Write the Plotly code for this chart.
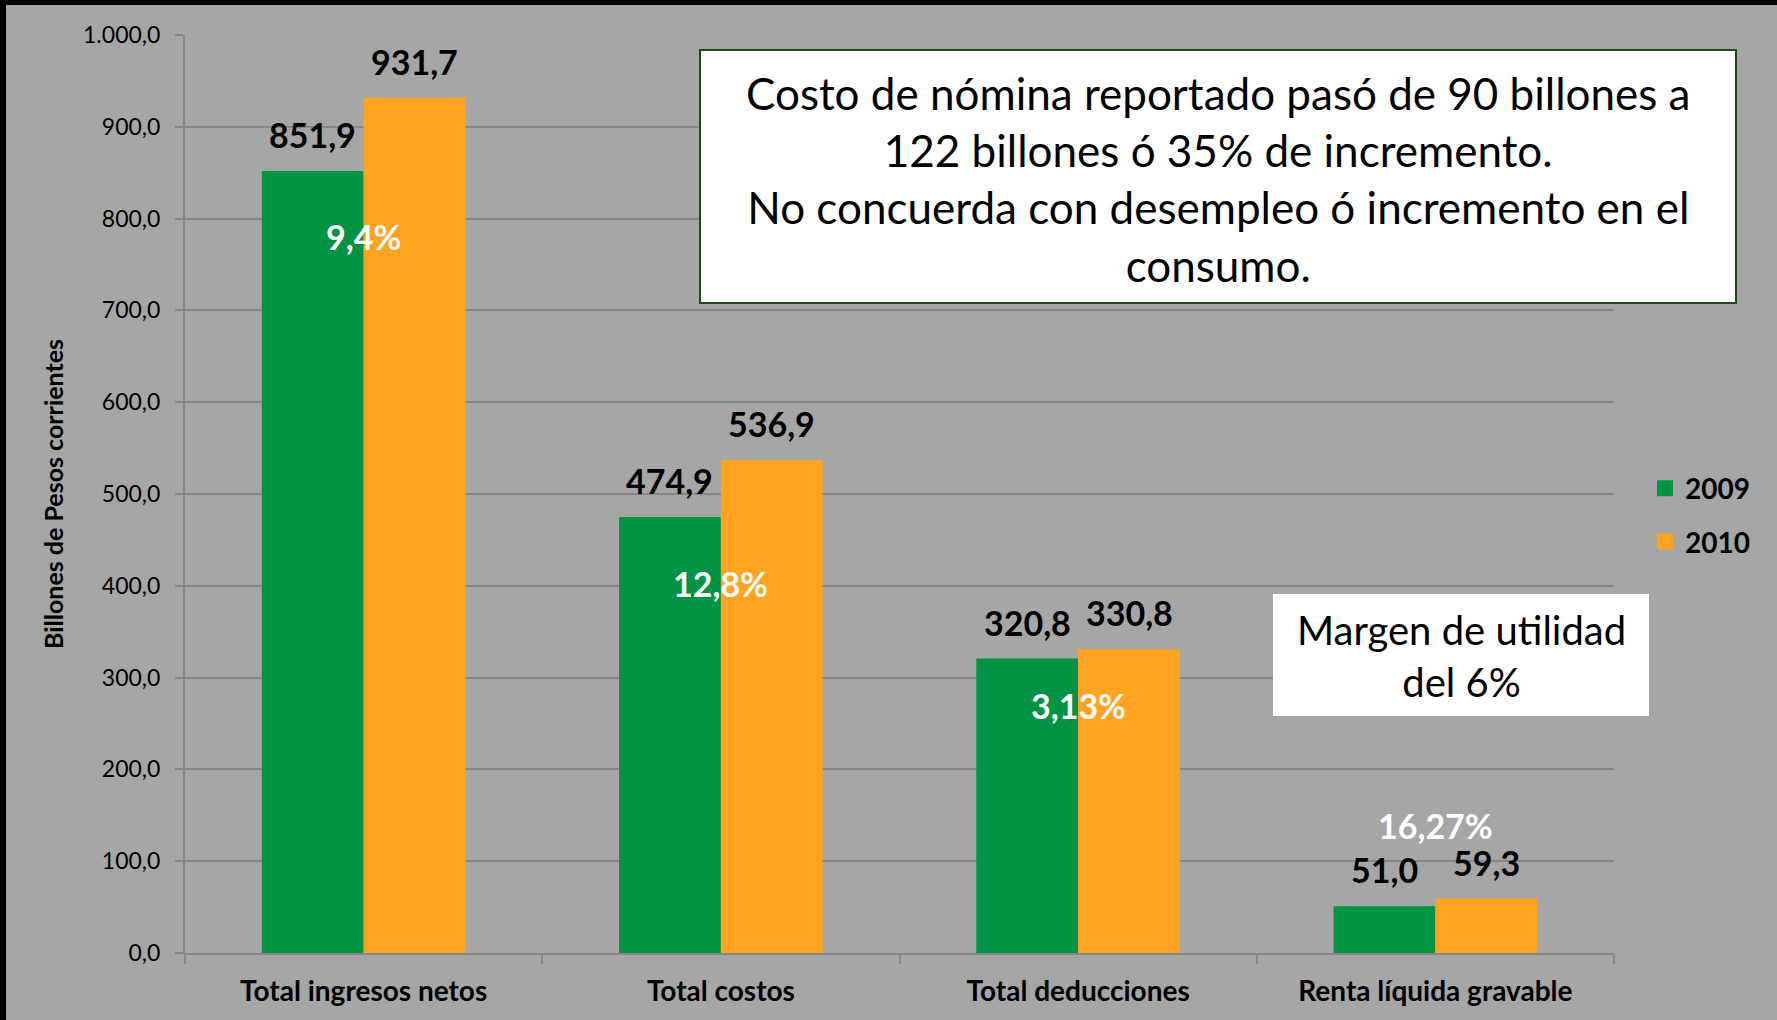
import plotly.graph_objects as go

categories = ["Total ingresos netos", "Total costos", "Total deducciones", "Renta líquida gravable"]
values_2009 = [851.9, 474.9, 320.8, 51.0]
values_2010 = [931.7, 536.9, 330.8, 59.3]
pct_labels = ["9,4%", "12,8%", "3,13%", "16,27%"]
pct_label_y = [781, 402, 270, 139]
y_ticks = [0, 100, 200, 300, 400, 500, 600, 700, 800, 900, 1000]

FONT = "Lato"
GREEN = "#009444"
ORANGE = "#FFA321"
BG = "#A6A6A6"
GRID = "#878787"

W, H = 1777, 1020
ML, MR, MT, MB = 185, 163, 35, 67
PW, PH = W - ML - MR, H - MT - MB
BARGAP = 0.43
half_bar = PW / len(categories) * (1 - BARGAP) / 4


def fmt(v):
    return f"{v:.1f}".replace(".", ",")


fig = go.Figure()
fig.add_trace(go.Bar(x=categories, y=values_2009, name="2009", marker_color=GREEN,
                     marker_line_width=0, showlegend=False))
fig.add_trace(go.Bar(x=categories, y=values_2010, name="2010", marker_color=ORANGE,
                     marker_line_width=0, showlegend=False))
# legend proxies
for nm, col, grp in [("2009", GREEN, "a"), ("2010", ORANGE, "b")]:
    fig.add_trace(go.Scatter(x=[None], y=[None], mode="markers", name=nm, legendgroup=grp,
                             marker=dict(symbol="square", size=17, color=col)))

for cat, v09, v10 in zip(categories, values_2009, values_2010):
    for v, sh in [(v09, -half_bar), (v10, half_bar)]:
        fig.add_annotation(x=cat, y=v, text=f"<b>{fmt(v)}</b>", showarrow=False,
                           xanchor="center", yanchor="bottom", xshift=sh, yshift=14,
                           font=dict(family=FONT, size=34, color="black"))

for cat, lab, yy in zip(categories, pct_labels, pct_label_y):
    fig.add_annotation(x=cat, y=yy, text=f"<b>{lab}</b>", showarrow=False,
                       xanchor="center", yanchor="middle",
                       font=dict(family=FONT, size=34, color="white"))


def px_x(x):
    return (x - ML) / PW


def px_y(y):
    return (H - MB - y) / PH


# Big text box
fig.add_shape(type="rect", xref="paper", yref="paper", x0=px_x(700), x1=px_x(1736),
              y0=px_y(303), y1=px_y(50),
              fillcolor="white", line=dict(color="#1D4A1D", width=2), layer="above")
fig.add_annotation(xref="paper", yref="paper", x=px_x(1218), y=px_y(179),
                   xanchor="center", yanchor="middle",
                   text="Costo de nómina reportado pasó de 90 billones a<br>122 billones ó 35% de incremento.<br>No concuerda con desempleo ó incremento en el<br>consumo.",
                   showarrow=False, align="center",
                   font=dict(family=FONT, size=44, color="black"))

# Small text box
fig.add_shape(type="rect", xref="paper", yref="paper", x0=px_x(1273), x1=px_x(1649),
              y0=px_y(716), y1=px_y(594),
              fillcolor="white", line=dict(width=0), layer="above")
fig.add_annotation(xref="paper", yref="paper", x=px_x(1461), y=px_y(656),
                   xanchor="center", yanchor="middle",
                   text="Margen de utilidad<br>del 6%", showarrow=False, align="center",
                   font=dict(family=FONT, size=40, color="black"))

# black border strips on top and left
fig.add_shape(type="rect", xref="paper", yref="paper", x0=px_x(0), x1=px_x(W),
              y0=px_y(5), y1=px_y(0), fillcolor="black", line=dict(width=0), layer="below")
fig.add_shape(type="rect", xref="paper", yref="paper", x0=px_x(0), x1=px_x(6),
              y0=px_y(H), y1=px_y(0), fillcolor="black", line=dict(width=0), layer="below")

fig.update_layout(
    width=W, height=H,
    margin=dict(l=ML, r=MR, t=MT, b=MB, autoexpand=False),
    paper_bgcolor=BG, plot_bgcolor=BG,
    separators=",.",
    barmode="group", bargap=BARGAP, bargroupgap=0,
    font=dict(family=FONT, color="black"),
    showlegend=True,
    legend=dict(x=px_x(1645), y=px_y(515), xanchor="left", yanchor="middle",
                font=dict(family=FONT, size=28, color="black", weight="bold"),
                tracegroupgap=14, bgcolor="rgba(0,0,0,0)", itemwidth=30),
    xaxis=dict(showgrid=False, showline=True, linecolor=GRID, linewidth=2,
               ticks="outside", tickson="boundaries", ticklen=9, tickcolor=GRID, tickwidth=2,
               ticklabelstandoff=12,
               tickfont=dict(family=FONT, size=28, color="black", weight="bold"),
               fixedrange=True),
    yaxis=dict(range=[0, 1000], tickvals=y_ticks, tickformat=",.1f",
               showgrid=True, gridcolor=GRID, gridwidth=2,
               showline=True, linecolor=GRID, linewidth=2,
               ticks="outside", ticklen=8, tickcolor=GRID, tickwidth=2,
               ticklabelstandoff=10,
               tickfont=dict(family=FONT, size=23, color="black"),
               zeroline=False,
               title=dict(text="<b>Billones de Pesos corrientes</b>", standoff=12,
                          font=dict(family=FONT, size=25, color="black"))),
)

fig.write_html("out.html", config={"displayModeBar": False},
               post_script="document.body.style.margin='0';")
